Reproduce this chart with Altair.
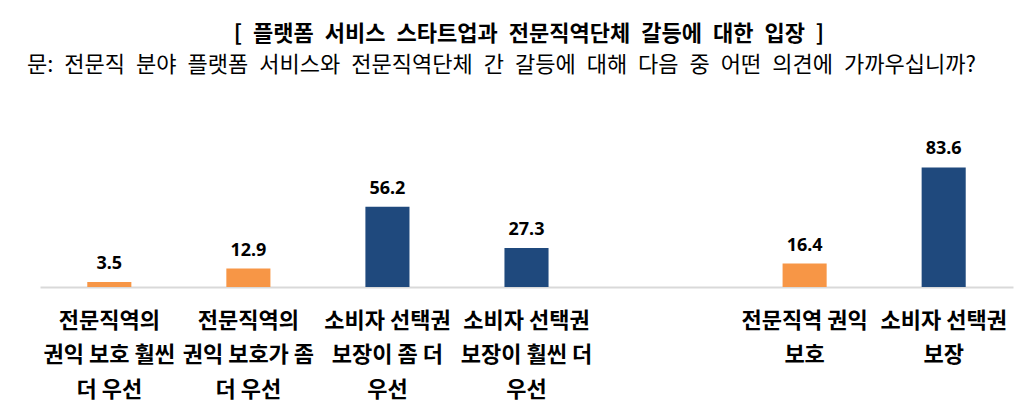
import altair as alt
import pandas as pd

SP = "\u2002"  # wide word space, as in the original typesetting
title_main = SP.join(["[", "플랫폼", "서비스", "스타트업과", "전문직역단체", "갈등에", "대한", "입장", "]"])
subtitle = SP.join(["문:", "전문직", "분야", "플랫폼", "서비스와", "전문직역단체", "간", "갈등에",
                    "대해", "다음", "중", "어떤", "의견에", "가까우십니까?"])

categories = [
    "전문직역의|권익 보호 훨씬|더 우선",
    "전문직역의|권익 보호가 좀|더 우선",
    "소비자 선택권|보장이 좀 더|우선",
    "소비자 선택권|보장이 훨씬 더|우선",
    "전문직역 권익|보호",
    "소비자 선택권|보장",
]
values = [3.5, 12.9, 56.2, 27.3, 16.4, 83.6]
groups = ["전문직역", "전문직역", "소비자", "소비자", "전문직역", "소비자"]

# x domain with an empty slot between the two question blocks
x_domain = categories[:4] + [" "] + categories[4:]
group_domain = ["전문직역", "소비자"]
group_colors = ["#F79646", "#1F497D"]

df = pd.DataFrame({"cat": categories, "value": values, "group": groups})

x = alt.X(
    "cat:N",
    sort=x_domain,
    scale=alt.Scale(domain=x_domain, paddingInner=0.683, paddingOuter=0.34),
    axis=alt.Axis(
        title=None,
        labelAngle=0,
        labelExpr="split(datum.label, '|')",
        labelFont="Noto Sans CJK KR",
        labelFontSize=22,
        labelFontWeight="bold",
        labelColor="#000000",
        labelLineHeight=34.5,
        labelPadding=23,
        labelOverlap=False,
        labelLimit=0,
        ticks=False,
        domainColor="#D9D9D9",
        domainWidth=2,
        grid=False,
    ),
)
y = alt.Y("value:Q", scale=alt.Scale(domain=[0, 100]), axis=None)

base = alt.Chart(df)
bars = base.mark_bar().encode(
    x=x,
    y=y,
    color=alt.Color("group:N", scale=alt.Scale(domain=group_domain, range=group_colors), legend=None),
)
labels = base.mark_text(
    dy=-9, baseline="bottom", font="Noto Sans", fontSize=18, fontWeight="bold", color="#000000"
).encode(x=x, y=y, text=alt.Text("value:Q", format=".1f"))

title_df = pd.DataFrame({"t": [title_main]})
sub_df = pd.DataFrame({"t": [subtitle]})
title_mark = alt.Chart(title_df).mark_text(
    align="center", baseline="middle", font="Noto Sans CJK KR", fontSize=22, fontWeight="bold", color="#000000"
).encode(x=alt.value(489), y=alt.value(-110), text="t:N")
sub_mark = alt.Chart(sub_df).mark_text(
    align="left", baseline="middle", font="Noto Sans CJK KR", fontSize=22, color="#000000"
).encode(x=alt.value(-13), y=alt.value(-79), text="t:N")

chart = (
    alt.layer(bars, labels, title_mark, sub_mark)
    .properties(
        width=973,
        height=143,
        autosize=alt.AutoSizeParams(type="none"),
        padding={"left": 32, "top": 136, "right": 3, "bottom": 119},
    )
    .configure(background="#FFFFFF", view=alt.ViewConfig(stroke="transparent", strokeWidth=0))
)

chart.save("out.html", embed_options={"renderer": "svg", "actions": False})
